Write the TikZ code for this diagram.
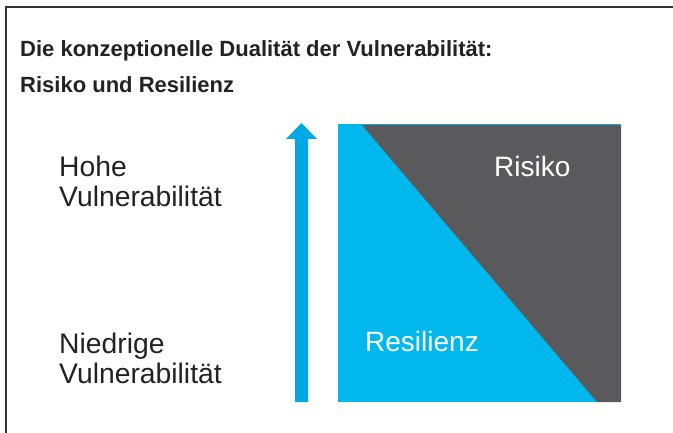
\documentclass[tikz,border=0pt]{standalone}
\usepackage{fontspec}
\setmainfont{Liberation Sans}
\definecolor{cyanbox}{HTML}{00B8EE}
\definecolor{cyanarrow}{HTML}{00A8E6}
\definecolor{darkbox}{HTML}{5A5A5C}
\definecolor{framegray}{HTML}{333333}
\definecolor{textgray}{HTML}{222222}
\tikzset{
  label/.style={anchor=base west, inner sep=0pt, text=textgray, font=\fontsize{28.3}{30}\selectfont, align=left},
  inlabel/.style={anchor=base west, inner sep=0pt, text=white, font=\fontsize{28}{30}\selectfont},
  titletext/.style={anchor=base west, inner sep=0pt, text=textgray, font=\bfseries\fontsize{22}{24}\selectfont},
  framestyle/.style={draw=framegray, line width=1.4pt}
}
\begin{document}
\begin{tikzpicture}[x=1pt,y=-1pt]
\useasboundingbox (0,0) rectangle (673,433);
% frame
\draw[framestyle] (6,433) -- (6,7) -- (673,7);
% title
\node[titletext] (t1) at (20,57) {Die konzeptionelle Dualität der Vulnerabilität:};
\node[titletext] (t2) at (20,93) {Risiko und Resilienz};
% left labels
\node[label] (hohe) at (59,177) {Hohe};
\node[label] (hv) at (59,207) {Vulnerabilität};
\node[label] (nied) at (59,353) {Niedrige};
\node[label] (nv) at (59,383) {Vulnerabilität};
% arrow
\fill[cyanarrow] (295,402) -- (295,139) -- (286,139) -- (301.5,123) -- (317,139) -- (308,139) -- (308,402) -- cycle;
% square
\fill[cyanbox] (338,124) rectangle (621,402);
\fill[darkbox] (362,125) -- (621,125) -- (621,402) -- (597,402) -- cycle;
\node[inlabel] (risiko) at (494,177) {Risiko};
\node[inlabel] (resil) at (365,352) {Resilienz};
\end{tikzpicture}
\end{document}
